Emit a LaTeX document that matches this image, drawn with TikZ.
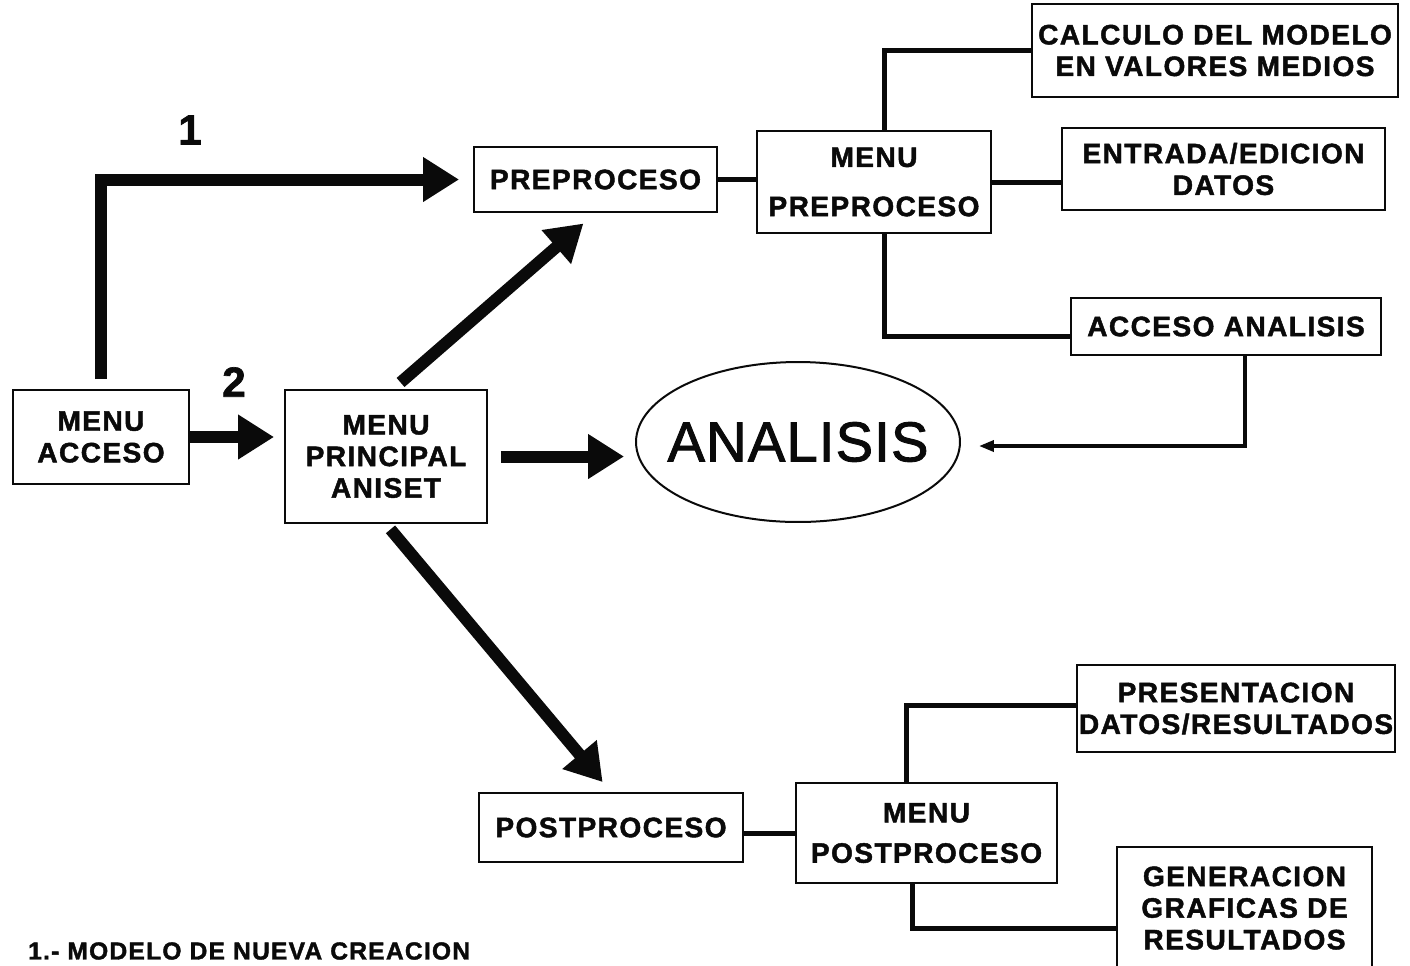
\documentclass[tikz,border=0pt]{standalone}
\usepackage{fontspec}
\setmainfont{Liberation Sans}[LetterSpace=5.0, BoldFeatures={FakeBold=1.6}]
\usepackage{tikz}
\usetikzlibrary{arrows.meta, calc, shapes.geometric}
\definecolor{ink}{RGB}{10, 10, 10}

\begin{document}
\begin{tikzpicture}[x=0.02cm, y=-0.02cm, ink,
    box/.style={draw, line width=0.04cm, inner sep=0pt, align=center,
      font=\fontsize{16}{18}\selectfont\bfseries},
    bigarrow/.style={line width=0.24cm, -{Triangle[length=0.72cm, width=0.85cm]}},
    link/.style={line width=0.1cm},
    num/.style={font=\fontsize{24}{26}\selectfont\bfseries}]
  \path[use as bounding box, clip] (0,0) rectangle (1410,965);
  % boxes, left part
  \node[box, minimum width=3.52cm, minimum height=1.88cm] (acceso) at (101,437) {MENU\\ACCESO};
  \node[box, minimum width=4.04cm, minimum height=2.66cm] (principal) at (386,456.5) {MENU\\PRINCIPAL\\ANISET};
  \node[draw, line width=0.04cm, ellipse, inner xsep=-1cm, inner ysep=-0.5cm,
    minimum width=6.48cm, minimum height=3.2cm,
    font=\fontsize{32}{34}\selectfont\addfontfeatures{FakeBold=1.6, LetterSpace=2.0}] (analisis) at (798,442) {ANALISIS};
  % preproceso branch
  \node[box, minimum width=4.86cm, minimum height=1.3cm] (preproceso) at (595.5,179.5) {PREPROCESO};
  \node[box, minimum width=4.68cm, minimum height=2.04cm] (menupre) at (874,182) {MENU\\[10pt]PREPROCESO};
  \node[box, minimum width=7.32cm, minimum height=1.86cm] (calculo) at (1215,50.5) {CALCULO DEL MODELO\\EN VALORES MEDIOS};
  \node[box, minimum width=6.46cm, minimum height=1.64cm] (entrada) at (1223.5,169) {ENTRADA/EDICION\\DATOS};
  \node[box, minimum width=6.2cm, minimum height=1.14cm] (accesoan) at (1226,326.5) {ACCESO ANALISIS};
  % postproceso branch
  \node[box, minimum width=5.28cm, minimum height=1.38cm] (postproceso) at (611,827.5) {POSTPROCESO};
  \node[box, minimum width=5.22cm, minimum height=2.0cm] (menupost) at (926.5,833) {MENU\\[5pt]POSTPROCESO};
  \node[box, minimum width=6.36cm, minimum height=1.74cm] (presentacion) at (1236,708.5) {PRESENTACION\\DATOS/RESULTADOS};
  \node[box, minimum width=5.1cm, minimum height=2.44cm] (generacion) at (1244.5,908) {GENERACION\\GRAFICAS DE\\RESULTADOS};
  % thick arrows
  \draw[bigarrow, shorten <=0.2cm, shorten >=0.28cm] (acceso.north) |- (preproceso.west);
  \draw[bigarrow, shorten >=0.2cm] (acceso.east) -- (acceso.east -| principal.west);
  \draw[bigarrow, shorten <=0.2cm, shorten >=0.32cm] ([xshift=0.14cm]principal.north) -- (preproceso.south);
  \draw[bigarrow, shorten <=0.26cm, shorten >=0.22cm] (principal.east) -- (principal.east -| analisis.west);
  \draw[bigarrow, shorten <=0.14cm, shorten >=0.26cm] (principal.south) -- (postproceso.north);
  \node[num] (uno) at (190,130) {1};
  \node[num] (dos) at (234,382) {2};
  % menu links
  \draw[link] (preproceso.east) -- (preproceso.east -| menupre.west);
  \draw[link] ([xshift=0.2cm]menupre.north) |- (calculo.west);
  \draw[link] (menupre.east) -- (menupre.east -| entrada.west);
  \draw[link] ([xshift=0.2cm]menupre.south) |- ([yshift=-0.2cm]accesoan.west);
  \draw[line width=0.07cm, -{Triangle[length=0.3cm, width=0.22cm]}, shorten >=0.36cm]
    ([xshift=0.38cm]accesoan.south) |- ([yshift=-0.08cm]analisis.east);
  \draw[link] (postproceso.east |- menupost.west) -- (menupost.west);
  \draw[link] ([xshift=-0.41cm]menupost.north) |- ([yshift=0.07cm]presentacion.west);
  \draw[link] ([xshift=-0.29cm]menupost.south) |- ([yshift=-0.4cm]generacion.west);
  % caption
  \node[anchor=west, font=\fontsize{14}{16}\selectfont\bfseries] (nota) at (22,951) {1.- MODELO DE NUEVA CREACION};
\end{tikzpicture}
\end{document}
